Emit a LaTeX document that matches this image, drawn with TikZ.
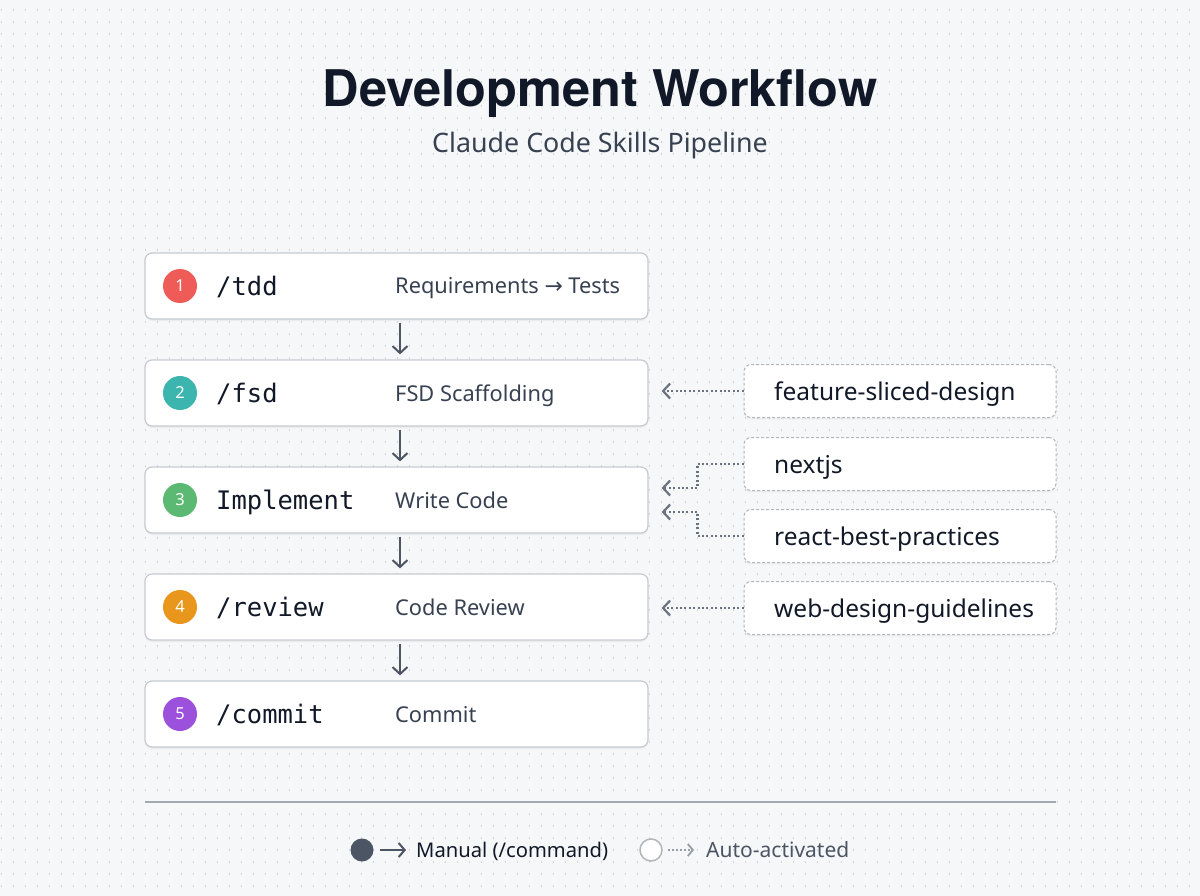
\documentclass[tikz,border=0pt]{standalone}
\usepackage{fontspec}
\setmainfont{Noto Sans}
\newfontfamily\monof{DejaVu Sans Mono}
\newfontfamily\symf{DejaVu Sans}
\newfontfamily\titlef{TeX Gyre Heros}
\usetikzlibrary{arrows.meta,shadows}
\definecolor{bg}{HTML}{F6F7F8}
\definecolor{dotc}{HTML}{D2D5D9}
\definecolor{bordc}{HTML}{C5CAD0}
\definecolor{ink}{HTML}{111827}
\definecolor{slate}{HTML}{4B5563}
\definecolor{desc}{HTML}{374151}
\definecolor{autoc}{HTML}{6B7380}
\definecolor{sepc}{HTML}{A3A9B1}
\definecolor{c1}{HTML}{EF5B57}
\definecolor{c2}{HTML}{3BB5AE}
\definecolor{c3}{HTML}{5CB974}
\definecolor{c4}{HTML}{E8961C}
\definecolor{c5}{HTML}{9B51DC}
\tikzset{
  mainbox/.style={draw=bordc, line width=1.2pt, fill=white, rounded corners=7pt,
    minimum width=503pt, minimum height=66pt, inner sep=0pt,
    drop shadow={shadow xshift=0pt, shadow yshift=-2pt, opacity=0.08}},
  badge/.style={circle, minimum size=34pt, inner sep=0pt, text=white,
    font=\fontsize{16.5}{16.5}\selectfont},
  cmd/.style={anchor=base west, font=\monof\fontsize{25.5}{25.5}\selectfont, text=ink, inner sep=0pt},
  descr/.style={anchor=base west, font=\fontsize{21.8}{21.8}\selectfont, text=desc, inner sep=0pt},
  skill/.style={draw=bordc!90!black, line width=1pt, dash pattern=on 3pt off 2pt,
    fill=white, rounded corners=7pt, minimum width=312pt, minimum height=53pt, inner sep=0pt,
    drop shadow={shadow xshift=0pt, shadow yshift=-2pt, opacity=0.06}},
  skilltxt/.style={anchor=base west, font=\fontsize{24.5}{24.5}\selectfont, text=ink, inner sep=0pt},
  flow/.style={draw=slate, line width=2pt, -{Straight Barb[length=7pt,width=15pt,line width=2pt]}},
  autoarrow/.style={draw=autoc, line width=2.2pt, dash pattern=on 2pt off 2.4pt,
    -{Straight Barb[length=7pt,width=15pt,line width=2.2pt]}},
}
\begin{document}
\begin{tikzpicture}[x=1pt,y=-1pt]
\useasboundingbox (0,0) rectangle (1200,896);
\fill[bg] (0,0) rectangle (1200,896);
\foreach \r in {0,...,74}{
  \draw[dotc, line width=1.6pt, dash pattern=on 1.6pt off 10.4pt] (0.5,10+12*\r) -- (1200,10+12*\r);
}
% title
\node[anchor=base, font=\titlef\bfseries\fontsize{50.5}{50.5}\selectfont, text=ink, inner sep=0pt] (title) at (600,107) {Development Workflow};
\node[anchor=base, font=\fontsize{26.8}{26.8}\selectfont, text=desc, inner sep=0pt] (sub) at (600,153) {Claude Code Skills Pipeline};

% main steps
\node[mainbox] (s1) at (396.5,286) {};
\node[mainbox] (s2) at (396.5,393) {};
\node[mainbox] (s3) at (396.5,500) {};
\node[mainbox] (s4) at (396.5,607) {};
\node[mainbox] (s5) at (396.5,714) {};

\node[badge, fill=c1] (b1) at (180,286) {1};
\node[badge, fill=c2] (b2) at (180,393) {2};
\node[badge, fill=c3] (b3) at (180,500) {3};
\node[badge, fill=c4] (b4) at (180,607) {4};
\node[badge, fill=c5] (b5) at (180,714) {5};

\node[cmd] (m1) at (216,295) {/tdd};
\node[cmd] (m2) at (216,402) {/fsd};
\node[cmd] (m3) at (216,509) {Implement};
\node[cmd] (m4) at (216,616) {/review};
\node[cmd] (m5) at (216,723) {/commit};

\node[descr] (d1) at (395,294) {Requirements {\symf →} Tests};
\node[descr] (d2) at (395,401) {FSD Scaffolding};
\node[descr] (d3) at (395,508) {Write Code};
\node[descr] (d4) at (395,615) {Code Review};
\node[descr] (d5) at (395,722) {Commit};

\foreach \a/\b in {s1/s2,s2/s3,s3/s4,s4/s5}{
  \draw[flow, shorten <=3pt, shorten >=5pt] ([xshift=3.5pt]\a.south) -- ([xshift=3.5pt]\b.north);
}

% skills
\node[skill] (k1) at (900,391) {};
\node[skill] (k2) at (900,464) {};
\node[skill] (k3) at (900,536) {};
\node[skill] (k4) at (900,608) {};
\node[skilltxt] (t1) at (774,400) {feature-sliced-design};
\node[skilltxt] (t2) at (774,473) {nextjs};
\node[skilltxt] (t3) at (774,545) {react-best-practices};
\node[skilltxt] (t4) at (774,617) {web-design-guidelines};

\draw[autoarrow, shorten >=13pt] (k1.west) -- (k1.west -| s2.east);
\draw[autoarrow, shorten >=13pt] (k2.west) -- ++(-46,0) |- ([yshift=12pt]s3.east);
\draw[autoarrow, shorten >=13pt] (k3.west) -- ++(-46,0) |- ([yshift=-12pt]s3.east);
\draw[autoarrow, shorten >=13pt] (k4.west) -- (k4.west -| s4.east);

% separator
\coordinate (sepL) at (145,802);
\coordinate (sepR) at (1056,802);
\draw[sepc, line width=1.8pt] (sepL) -- (sepR);

% legend
\node[circle, fill=slate, minimum size=23pt, inner sep=0pt] (lc1) at (362,850) {};
\coordinate (la1) at (406,850);
\draw[draw=slate, line width=2pt, -{Straight Barb[length=6pt,width=14pt,line width=2pt]}, shorten <=6pt] (lc1.east) -- (la1);
\node[descr, text=ink, font=\fontsize{20.2}{20.2}\selectfont] (l1) at (416,857) {Manual (/command)};
\node[circle, draw=bordc!90!black, line width=1.5pt, fill=white, minimum size=22pt, inner sep=0pt] (lc2) at (651,850) {};
\coordinate (la2) at (694,850);
\draw[draw=autoc!70, line width=2pt, dash pattern=on 1.8pt off 2.2pt, -{Straight Barb[length=5pt,width=12pt,line width=1.8pt]}, shorten <=5pt] (lc2.east) -- (la2);
\node[descr, text=slate, font=\fontsize{21}{21}\selectfont] (l2) at (706,857) {Auto-activated};
\end{tikzpicture}
\end{document}
